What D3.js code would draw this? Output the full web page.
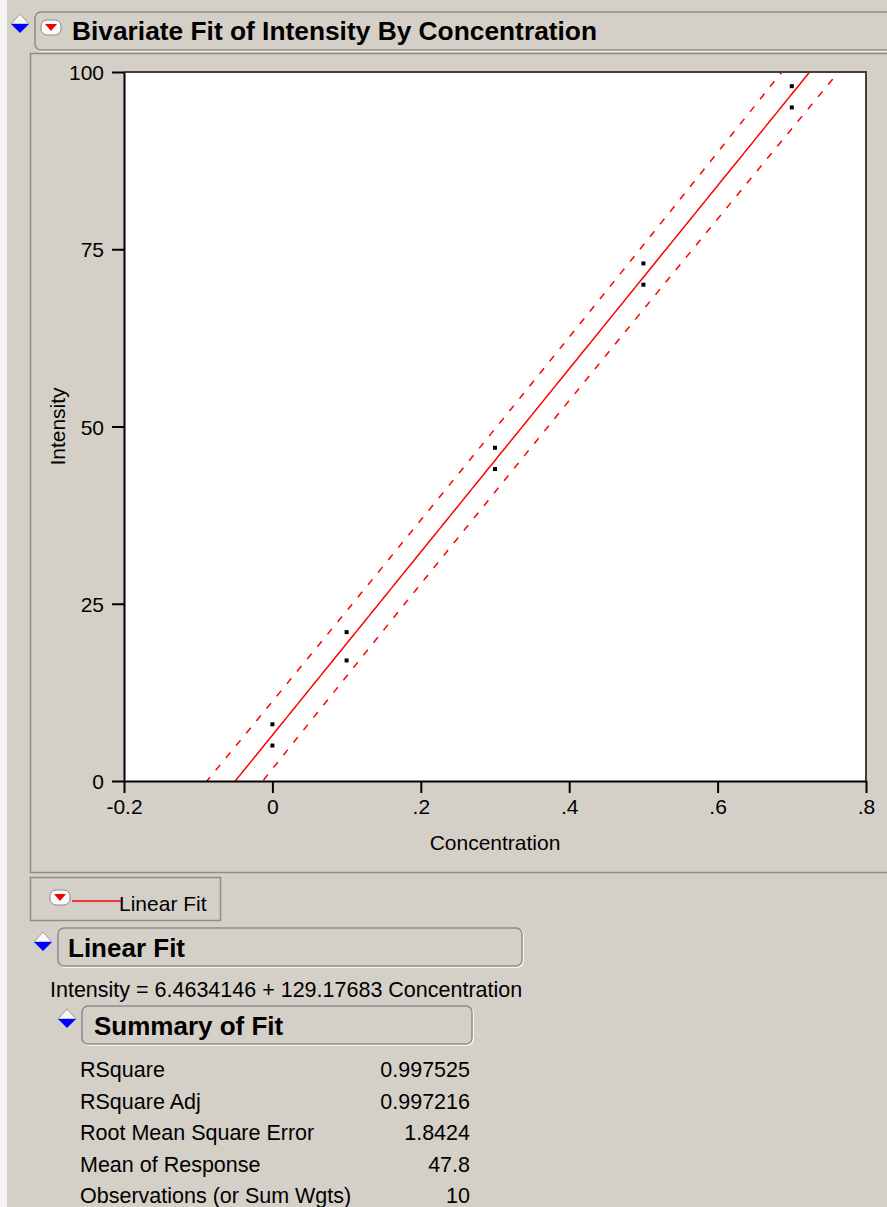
<!DOCTYPE html>
<html>
<head>
<meta charset="utf-8">
<script src="https://cdn.jsdelivr.net/npm/d3@7"></script>
<style>
  body { margin: 0; background: #d4d0c8; }
  svg { display: block; font-family: "Liberation Sans", Arial, sans-serif; }
</style>
</head>
<body>
<svg id="chart" width="887" height="1207"></svg>
<script>
// data
const concentration = [0, 0, 0.1, 0.1, 0.3, 0.3, 0.5, 0.5, 0.7, 0.7];
const intensity = [8, 5, 21, 17, 47, 44, 73, 70, 98, 95];
const xTicks = [-0.2, 0, 0.2, 0.4, 0.6, 0.8];
const xTickLabels = ["-0.2", "0", ".2", ".4", ".6", ".8"];
const yTicks = [0, 25, 50, 75, 100];
const summaryLabels = ["RSquare", "RSquare Adj", "Root Mean Square Error", "Mean of Response", "Observations (or Sum Wgts)"];
const summaryValues = ["0.997525", "0.997216", "1.8424", "47.8", "10"];
const equationText = "Intensity = 6.4634146 + 129.17683 Concentration";

const svg = d3.select("#chart");
const bg = "#d4d0c8";
const fs = 21;

svg.append("rect").attr("width", 887).attr("height", 1207).attr("fill", bg);
svg.append("rect").attr("width", 7).attr("height", 1207).attr("fill", "#f4f3ef");

// little helpers for the JMP widgets
function diamond(g, cx, cy) {
  g.append("path")
    .attr("d", `M${cx - 9},${cy} L${cx},${cy - 10} L${cx + 9},${cy} Z`)
    .attr("fill", "#f8f8f8").attr("stroke", "#9a9a9a").attr("stroke-width", 1);
  g.append("path")
    .attr("d", `M${cx - 9},${cy} L${cx},${cy + 9} L${cx + 9},${cy} Z`)
    .attr("fill", "#0000ff");
}
function redButton(g, x, y) {
  g.append("rect").attr("x", x).attr("y", y).attr("width", 20).attr("height", 15)
    .attr("rx", 6).attr("fill", "#fbfbfb").attr("stroke", "#8a8a8a");
  g.append("path").attr("d", `M${x + 4},${y + 4} L${x + 16},${y + 4} L${x + 10},${y + 11} Z`)
    .attr("fill", "#f00000");
}
function headerBox(g, x, y, w, h) {
  g.append("rect").attr("x", x + 1).attr("y", y + 1).attr("width", w).attr("height", h)
    .attr("rx", 6).attr("fill", "none").attr("stroke", "#ffffff").attr("stroke-width", 1.5);
  g.append("rect").attr("x", x).attr("y", y).attr("width", w).attr("height", h)
    .attr("rx", 6).attr("fill", bg).attr("stroke", "#8c8c8c").attr("stroke-width", 1.5);
}

// title
diamond(svg, 20, 24);
headerBox(svg, 35, 12, 880, 38);
redButton(svg, 41, 20);
svg.append("text").attr("x", 72).attr("y", 40).attr("font-weight", "bold")
  .attr("font-size", 25).attr("textLength", 525).attr("lengthAdjust", "spacingAndGlyphs")
  .text("Bivariate Fit of Intensity By Concentration");

// panel holding the plot
svg.append("rect").attr("x", 30.5).attr("y", 53.5).attr("width", 870).attr("height", 819)
  .attr("fill", bg).attr("stroke", "#8c8c8c").attr("stroke-width", 1.5);

const margin = { left: 124, top: 72, right: 866, bottom: 781 };
const x = d3.scaleLinear().domain([-0.2, 0.8]).range([margin.left, margin.right]);
const y = d3.scaleLinear().domain([0, 100]).range([margin.bottom, margin.top]);

svg.append("rect").attr("x", margin.left).attr("y", margin.top)
  .attr("width", margin.right - margin.left).attr("height", margin.bottom - margin.top)
  .attr("fill", "#ffffff");

svg.append("defs").append("clipPath").attr("id", "plotclip").append("rect")
  .attr("x", margin.left).attr("y", margin.top)
  .attr("width", margin.right - margin.left).attr("height", margin.bottom - margin.top);

// least squares fit and individual prediction band
const n = concentration.length;
const mx = d3.mean(concentration), my = d3.mean(intensity);
const sxx = d3.sum(concentration, c => (c - mx) * (c - mx));
const sxy = d3.sum(concentration, (c, i) => (c - mx) * (intensity[i] - my));
const slope = sxy / sxx, icpt = my - slope * mx;
const sse = d3.sum(concentration, (c, i) => Math.pow(intensity[i] - (icpt + slope * c), 2));
const rmse = Math.sqrt(sse / (n - 2));
const tq = 2.306; // t(0.975, 8)
const half = c => tq * rmse * Math.sqrt(1 + 1 / n + (c - mx) * (c - mx) / sxx);

const xs = d3.range(-0.2, 0.8001, 0.005);
const plotG = svg.append("g").attr("clip-path", "url(#plotclip)");

const line = d3.line().x(d => x(d[0])).y(d => y(d[1]));
plotG.append("path").datum(xs.map(c => [c, icpt + slope * c]))
  .attr("d", line).attr("fill", "none").attr("stroke", "#ff0000").attr("stroke-width", 1.5);
[1, -1].forEach(sg => {
  plotG.append("path").datum(xs.map(c => [c, icpt + slope * c + sg * half(c)]))
    .attr("d", line).attr("fill", "none").attr("stroke", "#ff0000")
    .attr("stroke-width", 1.5).attr("stroke-dasharray", "7,9");
});

plotG.selectAll("rect.pt").data(concentration).enter().append("rect")
  .attr("class", "pt")
  .attr("x", d => x(d) - 2).attr("y", (d, i) => y(intensity[i]) - 2)
  .attr("width", 4).attr("height", 4).attr("fill", "#000");

// frame: dark top/right, black axes
svg.append("path")
  .attr("d", `M${margin.left},${margin.top} H${margin.right} V${margin.bottom}`)
  .attr("fill", "none").attr("stroke", "#404040").attr("stroke-width", 2);

const xAxis = svg.append("g").attr("transform", `translate(0,${margin.bottom})`)
  .call(d3.axisBottom(x).tickValues(xTicks).tickFormat((d, i) => xTickLabels[i])
    .tickSize(12).tickSizeOuter(0).tickPadding(6));
const yAxis = svg.append("g").attr("transform", `translate(${margin.left},0)`)
  .call(d3.axisLeft(y).tickValues(yTicks).tickSize(12).tickSizeOuter(0).tickPadding(8));
[xAxis, yAxis].forEach(a => {
  a.attr("font-size", fs).attr("font-family", "Liberation Sans, Arial, sans-serif");
  a.select(".domain").attr("stroke", "#000").attr("stroke-width", 2);
  a.selectAll(".tick line").attr("stroke", "#000").attr("stroke-width", 2);
  a.selectAll(".tick text").attr("fill", "#000");
});
yAxis.selectAll(".tick text").attr("dy", "0.36em");

svg.append("text").attr("x", (margin.left + margin.right) / 2).attr("y", 850)
  .attr("text-anchor", "middle").attr("font-size", fs).text("Concentration");
svg.append("text").attr("transform", `translate(65,${(margin.top + margin.bottom) / 2}) rotate(-90)`)
  .attr("text-anchor", "middle").attr("font-size", fs).text("Intensity");

// legend box
svg.append("rect").attr("x", 30.5).attr("y", 877.5).attr("width", 190).attr("height", 43)
  .attr("fill", bg).attr("stroke", "#8c8c8c").attr("stroke-width", 1.5);
redButton(svg, 50, 890);
svg.append("line").attr("x1", 72).attr("x2", 121).attr("y1", 901).attr("y2", 901)
  .attr("stroke", "#ff0000").attr("stroke-width", 1.5);
svg.append("text").attr("x", 119).attr("y", 911).attr("font-size", fs).text("Linear Fit");

// Linear Fit report
diamond(svg, 43, 942);
headerBox(svg, 58, 928, 464, 38);
svg.append("text").attr("x", 68).attr("y", 957).attr("font-weight", "bold")
  .attr("font-size", 26).text("Linear Fit");
svg.append("text").attr("x", 50).attr("y", 997).attr("font-size", 21.5).text(equationText);

// Summary of Fit
diamond(svg, 67, 1019);
headerBox(svg, 82, 1006, 390, 38);
svg.append("text").attr("x", 94).attr("y", 1035).attr("font-weight", "bold")
  .attr("font-size", 26).text("Summary of Fit");

const rowY = d3.scalePoint().domain(d3.range(summaryLabels.length)).range([1077, 1203]);
svg.selectAll("text.lbl").data(summaryLabels).enter().append("text")
  .attr("class", "lbl").attr("x", 80).attr("y", (d, i) => rowY(i))
  .attr("font-size", 21.5).text(d => d);
svg.selectAll("text.val").data(summaryValues).enter().append("text")
  .attr("class", "val").attr("x", 470).attr("y", (d, i) => rowY(i))
  .attr("text-anchor", "end").attr("font-size", 21.5).text(d => d);
</script>
</body>
</html>
